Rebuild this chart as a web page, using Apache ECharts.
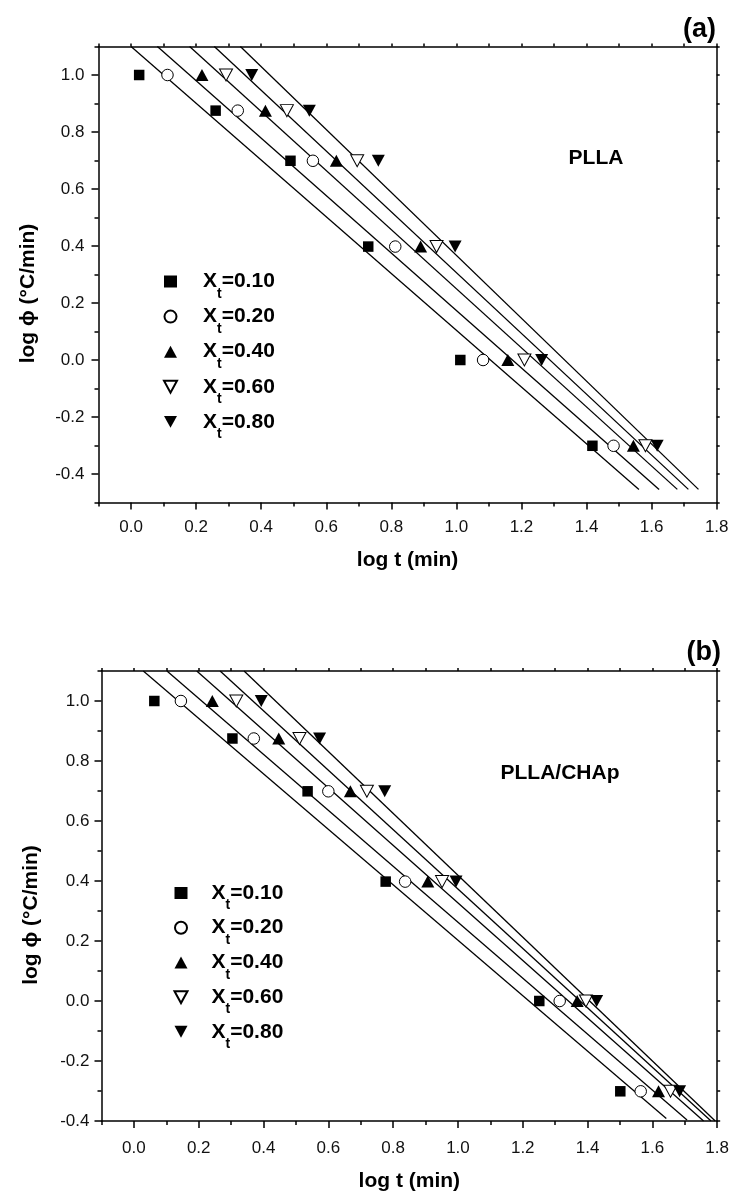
<!DOCTYPE html>
<html><head><meta charset="utf-8">
<script src="https://cdn.jsdelivr.net/npm/echarts@6/dist/echarts.min.js"></script>
<style>html,body{margin:0;padding:0;background:#fff}#c{width:732px;height:1193px}</style>
</head><body><div id="c"></div>
<script>
// ---------- data ----------
const xTicks = [0.0, 0.2, 0.4, 0.6, 0.8, 1.0, 1.2, 1.4, 1.6, 1.8];
const xMinorTicks = [-0.1, 0.1, 0.3, 0.5, 0.7, 0.9, 1.1, 1.3, 1.5, 1.7];
const yTicks = [-0.4, -0.2, 0.0, 0.2, 0.4, 0.6, 0.8, 1.0];
const yMinorTicksA = [-0.5, -0.3, -0.1, 0.1, 0.3, 0.5, 0.7, 0.9, 1.1];
const yMinorTicksB = [-0.3, -0.1, 0.1, 0.3, 0.5, 0.7, 0.9, 1.1];
const xtLevels = ['0.10', '0.20', '0.40', '0.60', '0.80'];
const logPhi = [1.0, 0.875, 0.699, 0.398, 0.0, -0.301];

// panel (a) PLLA : log t for each log phi
const logT_A_010 = [0.025, 0.260, 0.490, 0.729, 1.012, 1.418];
const logT_A_020 = [0.112, 0.328, 0.559, 0.812, 1.082, 1.483];
const logT_A_040 = [0.218, 0.413, 0.631, 0.890, 1.158, 1.544];
const logT_A_060 = [0.292, 0.479, 0.695, 0.939, 1.209, 1.581];
const logT_A_080 = [0.371, 0.548, 0.760, 0.996, 1.262, 1.617];
// fitted lines (a): start at log phi = 1.1, end points
const fitA_startX = [0.000, 0.081, 0.180, 0.256, 0.336];
const fitA_startY = [1.1, 1.1, 1.1, 1.1, 1.1];
const fitA_endX = [1.561, 1.623, 1.679, 1.713, 1.744];
const fitA_endY = [-0.454, -0.454, -0.454, -0.454, -0.454];

// panel (b) PLLA/CHAp
const logT_B_010 = [0.063, 0.304, 0.536, 0.777, 1.251, 1.501];
const logT_B_020 = [0.145, 0.370, 0.600, 0.837, 1.314, 1.564];
const logT_B_040 = [0.242, 0.447, 0.668, 0.907, 1.368, 1.619];
const logT_B_060 = [0.316, 0.511, 0.719, 0.951, 1.395, 1.656];
const logT_B_080 = [0.393, 0.573, 0.774, 0.994, 1.428, 1.684];
const fitB_startX = [0.029, 0.102, 0.194, 0.266, 0.340];
const fitB_startY = [1.1, 1.1, 1.1, 1.1, 1.1];
const fitB_endX = [1.643, 1.707, 1.758, 1.781, 1.794];
const fitB_endY = [-0.392, -0.397, -0.400, -0.400, -0.400];

// ---------- styles ----------
const FONT = 'Liberation Sans';
const downTri = 'path://M0,0L12,0L6,11Z';
const markers = [
  {symbol: 'rect', symbolSize: 10.5, itemStyle: {color: '#000', opacity: 1}},
  {symbol: 'circle', symbolSize: 11.5, itemStyle: {color: '#fff', borderColor: '#000', borderWidth: 1, opacity: 1}},
  {symbol: 'triangle', symbolSize: [13, 12], itemStyle: {color: '#000', opacity: 1}},
  {symbol: downTri, symbolSize: [13, 12], itemStyle: {color: '#fff', borderColor: '#000', borderWidth: 1, opacity: 1}},
  {symbol: downTri, symbolSize: [13, 12], itemStyle: {color: '#000', opacity: 1}}
];

const panels = [
  {
    key: 'a', logT: [logT_A_010, logT_A_020, logT_A_040, logT_A_060, logT_A_080],
    fit: [fitA_startX, fitA_startY, fitA_endX, fitA_endY],
    yMin: -0.5, yMinor: yMinorTicksA,
    grid: {left: 98.5, top: 46.5, width: 618.2, height: 456},
    legend: {left: 163, top: 262, spacer: 21, gap: -3.9},
    xName: {gap: 47}, yName: {gap: 60}, labelMarginX: 16, labelMarginY: 14
  },
  {
    key: 'b', logT: [logT_B_010, logT_B_020, logT_B_040, logT_B_060, logT_B_080],
    fit: [fitB_startX, fitB_startY, fitB_endX, fitB_endY],
    yMin: -0.4, yMinor: yMinorTicksB,
    grid: {left: 101.5, top: 671, width: 619.5, height: 452.3},
    legend: {left: 173.5, top: 873.5, spacer: 19, gap: -4.3},
    xName: {gap: 50}, yName: {gap: 60}, labelMarginX: 19, labelMarginY: 12
  }
];

const fmt = v => v.toFixed(1);
const axisLineStyle = {color: '#000', width: 1.5};

const option = {
  animation: false,
  backgroundColor: '#fff',
  grid: [], xAxis: [], yAxis: [], series: [], legend: [],
  graphic: [
    {type: 'text', x: 716, y: 30, style: {text: '(a)', font: 'bold 27px "Liberation Sans"', align: 'right', verticalAlign: 'middle', fill: '#000'}},
    {type: 'text', x: 721, y: 653, style: {text: '(b)', font: 'bold 27px "Liberation Sans"', align: 'right', verticalAlign: 'middle', fill: '#000'}},
    {type: 'text', x: 596, y: 158, style: {text: 'PLLA', font: 'bold 21px "Liberation Sans"', align: 'center', verticalAlign: 'middle', fill: '#000'}},
    {type: 'text', x: 560, y: 773, style: {text: 'PLLA/CHAp', font: 'bold 21px "Liberation Sans"', align: 'center', verticalAlign: 'middle', fill: '#000'}}
  ]
};

panels.forEach((P, p) => {
  option.grid.push(Object.assign({containLabel: false}, P.grid));
  const xi = p * 3, yi = p * 3;
  const base = {type: 'value', gridIndex: p, min: -0.1, max: 1.8, splitLine: {show: false}};
  option.xAxis.push(
    Object.assign({}, base, {
      position: 'bottom',
      axisLine: {show: true, onZero: false, lineStyle: axisLineStyle},
      axisTick: {show: true, length: 7, lineStyle: axisLineStyle, customValues: xTicks},
      axisLabel: {customValues: xTicks, formatter: fmt, fontSize: 17, fontFamily: FONT, color: '#111', margin: P.labelMarginX},
      name: 'log t (min)', nameLocation: 'middle', nameGap: P.xName.gap,
      nameTextStyle: {fontSize: 21, fontWeight: 'bold', fontFamily: FONT, color: '#000'}
    }),
    Object.assign({}, base, {
      position: 'bottom',
      axisLine: {show: false, onZero: false},
      axisTick: {show: true, length: 4, lineStyle: axisLineStyle, customValues: xMinorTicks},
      axisLabel: {show: false}
    }),
    Object.assign({}, base, {
      position: 'top',
      axisLine: {show: true, onZero: false, lineStyle: axisLineStyle},
      axisTick: {show: true, length: 3, lineStyle: axisLineStyle, customValues: xTicks.concat(xMinorTicks)},
      axisLabel: {show: false}
    })
  );
  const ybase = {type: 'value', gridIndex: p, min: P.yMin, max: 1.1, splitLine: {show: false}};
  option.yAxis.push(
    Object.assign({}, ybase, {
      position: 'left',
      axisLine: {show: true, onZero: false, lineStyle: axisLineStyle},
      axisTick: {show: true, length: 7, lineStyle: axisLineStyle, customValues: yTicks},
      axisLabel: {customValues: yTicks, formatter: fmt, fontSize: 17, fontFamily: FONT, color: '#111', margin: P.labelMarginY},
      name: 'log \u03D5 (\u00B0C/min)', nameLocation: 'middle', nameGap: P.yName.gap, nameRotate: 90,
      nameTextStyle: {fontSize: 21, fontWeight: 'bold', fontFamily: FONT, color: '#000', padding: [0, 38, 0, 0]}
    }),
    Object.assign({}, ybase, {
      position: 'left',
      axisLine: {show: false, onZero: false},
      axisTick: {show: true, length: 4, lineStyle: axisLineStyle, customValues: P.yMinor},
      axisLabel: {show: false}
    }),
    Object.assign({}, ybase, {
      position: 'right',
      axisLine: {show: true, onZero: false, lineStyle: axisLineStyle},
      axisTick: {show: true, length: 3, lineStyle: axisLineStyle, customValues: yTicks.concat(P.yMinor)},
      axisLabel: {show: false}
    })
  );
  const names = [];
  xtLevels.forEach((lv, k) => {
    const nm = P.key + lv;
    names.push(nm);
    option.series.push(Object.assign({
      type: 'scatter', name: nm, xAxisIndex: xi, yAxisIndex: yi, z: 3,
      data: P.logT[k].map((t, i) => [t, logPhi[i]])
    }, markers[k]));
    option.series.push({
      type: 'line', name: 'fit' + nm, xAxisIndex: xi, yAxisIndex: yi, z: 2,
      showSymbol: false, symbol: 'none', silent: true,
      lineStyle: {color: '#000', width: 1.3},
      data: [[P.fit[0][k], P.fit[1][k]], [P.fit[2][k], P.fit[3][k]]]
    });
  });
  option.legend.push({
    data: names, orient: 'vertical', left: P.legend.left, top: P.legend.top,
    padding: 0, itemGap: P.legend.gap, itemWidth: 13, itemHeight: 12, selectedMode: false,
    formatter: nm => '{sp| }{x|X}{t|t}{x|=' + nm.slice(1) + '}',
    textStyle: {
      rich: {
        sp: {width: P.legend.spacer, fontSize: 10},
        x: {fontSize: 21, fontWeight: 'bold', fontFamily: FONT, color: '#000', lineHeight: 22, verticalAlign: 'middle'},
        t: {fontSize: 14, fontWeight: 'bold', fontFamily: FONT, color: '#000', lineHeight: 12, padding: [25, 0, 0, 0], verticalAlign: 'middle'}
      }
    }
  });
});

const chart = echarts.init(document.getElementById('c'), null, {renderer: 'canvas'});
chart.setOption(option);
</script>
</body></html>
